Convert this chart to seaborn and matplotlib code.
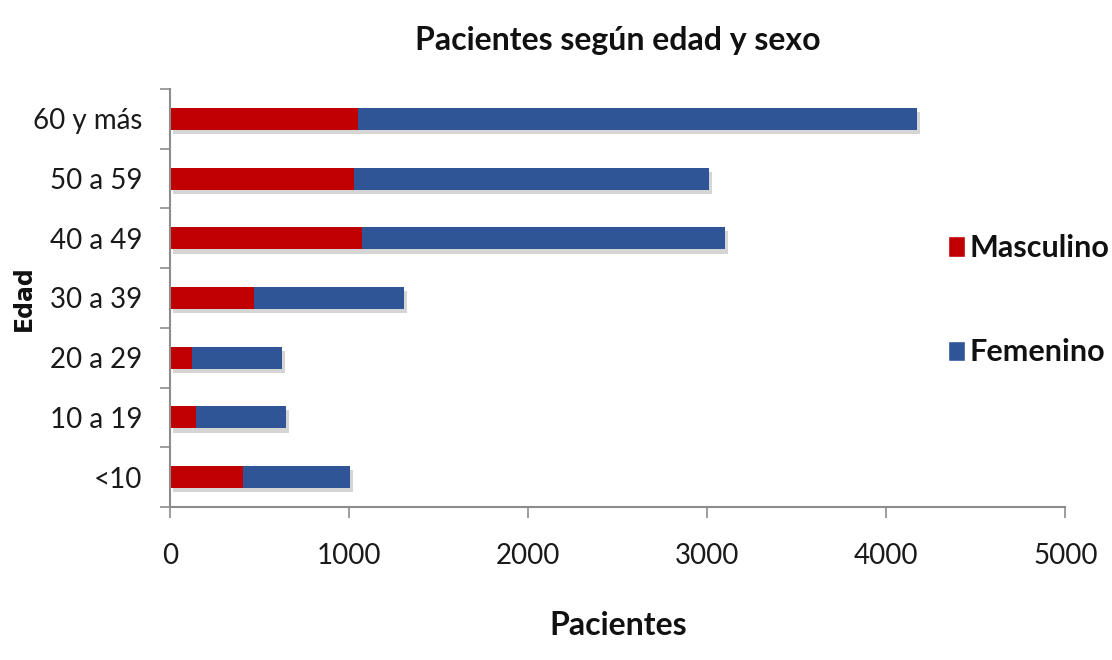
import numpy as np
import pandas as pd
import matplotlib
matplotlib.use("Agg")
import matplotlib.pyplot as plt
import matplotlib.patheffects as pe
from matplotlib.patches import Patch
from matplotlib.ticker import FixedLocator
import seaborn as sns

# Datos
edades = ["60 y más", "50 a 59", "40 a 49", "30 a 39", "20 a 29", "10 a 19", "<10"]
masculino = [1050, 1028, 1073, 469, 123, 145, 408]
femenino = [3123, 1983, 2028, 838, 503, 503, 598]

ROJO = "#C00000"
AZUL = "#2F5597"

sns.set_theme(style="white")
plt.rcParams["font.family"] = ["Lato", "DejaVu Sans"]

df = pd.DataFrame({"Edad": edades, "Masculino": masculino, "Femenino": femenino})
df["Total"] = df["Masculino"] + df["Femenino"]

fig = plt.figure(figsize=(11.12, 6.6), dpi=100)
ax = fig.add_axes([0.153, 0.232, 0.805, 0.633])

sns.barplot(data=df, y="Edad", x="Total", orient="h", color=AZUL,
            width=0.37, saturation=1, linewidth=0, ax=ax)
for bar in ax.patches:
    bar.set_path_effects([pe.SimplePatchShadow(offset=(2, -3), alpha=0.22,
                                               shadow_rgbFace="#444444"), pe.Normal()])
sns.barplot(data=df, y="Edad", x="Masculino", orient="h", color=ROJO,
            width=0.37, saturation=1, linewidth=0, ax=ax)

ax.set_xlim(0, 5000)
ax.set_ylim(len(edades) - 0.5, -0.5)
ax.set_xticks(np.arange(0, 5001, 1000))
ax.yaxis.set_minor_locator(FixedLocator(np.arange(-0.5, len(edades), 1)))

for s in ["top", "right"]:
    ax.spines[s].set_visible(False)
for s in ["left", "bottom"]:
    ax.spines[s].set_color("#8c8c8c")
    ax.spines[s].set_linewidth(1.5)

ax.tick_params(axis="x", which="major", length=8, width=1.2, color="#8c8c8c",
               direction="out", labelsize=20, pad=18, bottom=True,
               labelcolor="#1a1a1a")
ax.tick_params(axis="y", which="major", length=0, labelsize=20, pad=20,
               labelcolor="#1a1a1a")
ax.tick_params(axis="y", which="minor", length=7, width=1.2, color="#8c8c8c",
               direction="out", left=True)

ax.set_xlabel("Pacientes", fontsize=23, fontweight="bold", labelpad=30,
              color="#111111")
ax.set_ylabel("Edad", fontsize=17, fontweight="bold", color="#111111",
              family=["DejaVu Sans"])
ax.yaxis.set_label_coords(-0.15, 0.5)
ax.set_title("Pacientes según edad y sexo", fontsize=23, fontweight="bold",
             pad=28, color="#111111")

handles = [Patch(facecolor=ROJO, label="Masculino"),
           Patch(facecolor=AZUL, label="Femenino")]
fig.legend(handles=handles, loc="center left", bbox_to_anchor=(0.828, 0.545),
           frameon=False, prop={"size": 22, "weight": "bold"},
           handlelength=0.55, handleheight=0.65, handletextpad=0.15,
           labelspacing=2.5, labelcolor="#111111")

fig.savefig("out.png", dpi=100)
